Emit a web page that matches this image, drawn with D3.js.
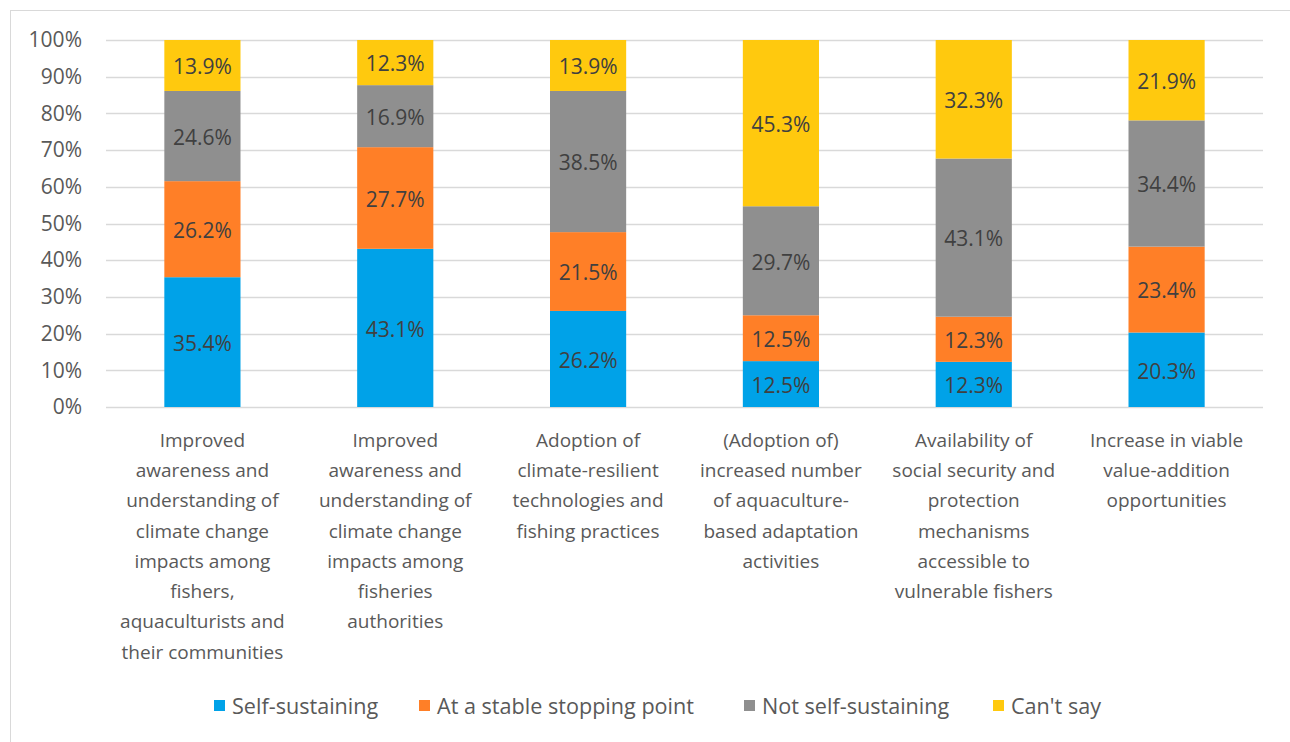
<!DOCTYPE html>
<html><head><meta charset="utf-8">
<script src="https://cdn.jsdelivr.net/npm/d3@7"></script>
<style>body{margin:0;background:#fff;} svg{display:block;font-family:"Open Sans",sans-serif;}</style>
</head><body>
<svg id="c" width="1290" height="742"></svg>
<script>
const categories = [
  ["Improved","awareness and","understanding of","climate change","impacts among","fishers,","aquaculturists and","their communities"],
  ["Improved","awareness and","understanding of","climate change","impacts among","fisheries","authorities"],
  ["Adoption of","climate-resilient","technologies and","fishing practices"],
  ["(Adoption of)","increased number","of aquaculture-","based adaptation","activities"],
  ["Availability of","social security and","protection","mechanisms","accessible to","vulnerable fishers"],
  ["Increase in viable","value-addition","opportunities"]
];
const seriesNames = ["Self-sustaining","At a stable stopping point","Not self-sustaining","Can't say"];
const selfSustaining = [35.4, 43.1, 26.2, 12.5, 12.3, 20.3];
const stableStopping = [26.2, 27.7, 21.5, 12.5, 12.3, 23.4];
const notSelfSustaining = [24.6, 16.9, 38.5, 29.7, 43.1, 34.4];
const cantSay = [13.9, 12.3, 13.9, 45.3, 32.3, 21.9];
const yTicks = [0,10,20,30,40,50,60,70,80,90,100];
const colors = ["#00A2E8","#FF7F27","#8F8F8F","#FFC90E"];

const svg = d3.select("#c");
svg.append("rect").attr("x",10.5).attr("y",10.5).attr("width",1300).attr("height",760)
  .attr("fill","none").attr("stroke","#d9d9d9").attr("stroke-width",1);

const pL=106, pR=1263, pT=40, pB=407;
const x = d3.scaleBand().domain(d3.range(categories.length)).range([pL,pR]).paddingInner(0.605).paddingOuter(0.3025);
const y = d3.scaleLinear().domain([0,100]).range([pB,pT]);

const rows = categories.map((c,i)=>({i, s0:selfSustaining[i], s1:stableStopping[i], s2:notSelfSustaining[i], s3:cantSay[i]}));
const keys = ["s0","s1","s2","s3"];
const stack = d3.stack().keys(keys).offset(d3.stackOffsetExpand)(rows);

// grid
svg.append("g").selectAll("line").data(yTicks).join("line")
  .attr("x1",pL).attr("x2",pR).attr("y1",d=>Math.round(y(d))+0.5).attr("y2",d=>Math.round(y(d))+0.5)
  .attr("stroke","#d9d9d9").attr("stroke-width",1.3);

// y axis labels
const yAxis = d3.axisLeft(y).tickValues(yTicks).tickFormat(d=>d+"%").tickSize(0).tickPadding(0);
const ya = svg.append("g").attr("transform",`translate(${82},0)`).call(yAxis);
ya.select(".domain").remove();
ya.selectAll("text").attr("fill","#595959").attr("font-size","21px").attr("font-family","Open Sans");

// bars
const g = svg.append("g");
stack.forEach((layer,k)=>{
  g.append("g").selectAll("rect").data(layer).join("rect")
    .attr("x",d=>x(d.data.i)).attr("width",x.bandwidth())
    .attr("y",d=>y(d[1]*100)).attr("height",d=>y(d[0]*100)-y(d[1]*100))
    .attr("fill",colors[k]);
  g.append("g").selectAll("text").data(layer).join("text")
    .attr("x",d=>x(d.data.i)+x.bandwidth()/2)
    .attr("y",d=>y((d[0]+d[1])/2*100))
    .attr("dy","0.42em").attr("text-anchor","middle")
    .attr("fill","#404040").attr("font-size","21px")
    .text(d=>d.data[keys[k]].toFixed(1)+"%");
});

// category labels
const cl = svg.append("g");
categories.forEach((lines,i)=>{
  const t = cl.append("text").attr("text-anchor","middle").attr("fill","#595959").attr("font-size","19px");
  lines.forEach((ln,j)=>{
    t.append("tspan").attr("x",x(i)+x.bandwidth()/2).attr("y",440+j*30.3).attr("dy","0.35em").text(ln);
  });
});

// legend
const legX = [214, 419, 744, 993];
const lg = svg.append("g");
seriesNames.forEach((n,k)=>{
  lg.append("rect").attr("x",legX[k]).attr("y",700).attr("width",11).attr("height",11).attr("fill",colors[k]);
  lg.append("text").attr("x",legX[k]+18).attr("y",706).attr("dy","0.35em").attr("fill","#595959").attr("font-size","21.6px").text(n);
});
</script>
</body></html>
